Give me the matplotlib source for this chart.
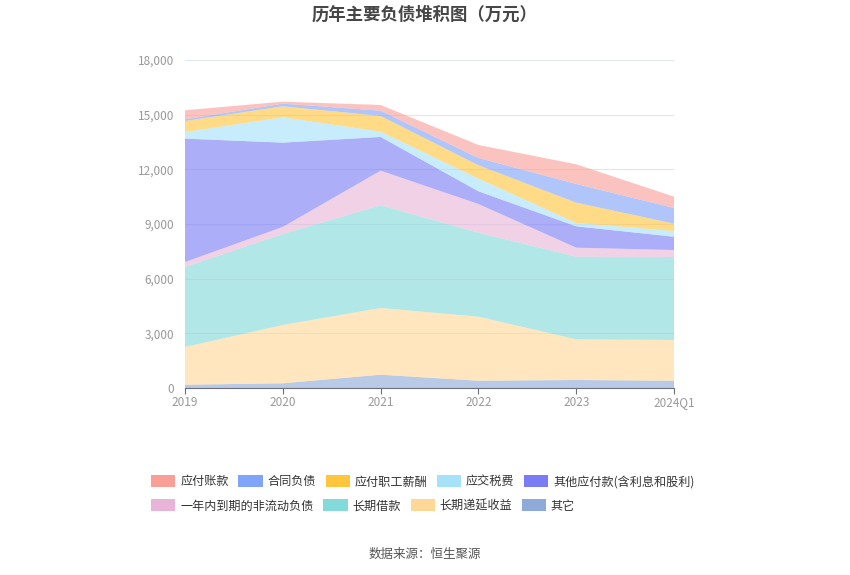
import matplotlib

matplotlib.use("Agg")
import matplotlib.pyplot as plt
from matplotlib.patches import Patch

plt.rcParams["font.family"] = ["Noto Sans CJK SC", "DejaVu Sans"]

# 横轴
YEARS = ["2019", "2020", "2021", "2022", "2023", "2024Q1"]

# 各科目(万元)，按堆叠顺序自下而上
OTHER = [180, 258, 730, 400, 440, 400]            # 其它
DEFERRED = [2070, 3199, 3660, 3513, 2230, 2234]   # 长期递延收益
LT_LOAN = [4390, 4993, 5635, 4612, 4537, 4556]    # 长期借款
NCL_1Y = [275, 390, 1902, 1573, 494, 383]         # 一年内到期的非流动负债
OTHER_PAY = [6768, 4624, 1848, 695, 1171, 727]    # 其他应付款(含利息和股利)
TAX = [366, 1390, 292, 695, 183, 316]             # 应交税费
SALARY = [604, 605, 860, 732, 1116, 402]          # 应付职工薪酬
CONTRACT = [92, 145, 292, 402, 1025, 860]         # 合同负债
PAYABLE = [495, 109, 312, 714, 1080, 622]         # 应付账款

SERIES = [
    ("其它", OTHER, "#8eaad8"),
    ("长期递延收益", DEFERRED, "#ffd897"),
    ("长期借款", LT_LOAN, "#84d9d9"),
    ("一年内到期的非流动负债", NCL_1Y, "#e8b5d8"),
    ("其他应付款(含利息和股利)", OTHER_PAY, "#7a7cf4"),
    ("应交税费", TAX, "#a6e1fa"),
    ("应付职工薪酬", SALARY, "#ffc53d"),
    ("合同负债", CONTRACT, "#80a4fa"),
    ("应付账款", PAYABLE, "#fa9f98"),
]
ROW1 = ["应付账款", "合同负债", "应付职工薪酬", "应交税费", "其他应付款(含利息和股利)"]
ROW2 = ["一年内到期的非流动负债", "长期借款", "长期递延收益", "其它"]

GRAY = "#999999"


def main():
    fig = plt.figure(figsize=(8.5, 5.75), dpi=100)
    ax = fig.add_axes([0.2176, 0.3252, 0.5754, 0.5705])

    x = list(range(len(YEARS)))
    ax.stackplot(x, *[s[1] for s in SERIES], colors=[s[2] for s in SERIES],
                 alpha=0.62, linewidth=0)

    ax.set_xlim(0, len(YEARS) - 1)
    ax.set_ylim(0, 18000)
    ax.set_yticks(range(0, 18001, 3000))
    ax.set_yticklabels([f"{v:,}" for v in range(0, 18001, 3000)])
    ax.set_xticks(x)
    ax.set_xticklabels(YEARS)
    ax.grid(axis="y", color="#e0e6f1", lw=0.8)
    ax.set_axisbelow(True)
    for s in ["top", "right", "left"]:
        ax.spines[s].set_visible(False)
    ax.spines["bottom"].set_color("#6e7079")
    ax.tick_params(axis="y", length=0, colors=GRAY, labelsize=8.5, pad=8)
    ax.tick_params(axis="x", length=4, color="#6e7079", colors=GRAY,
                   labelsize=8.5, pad=2)

    fig.text(0.5, 0.975, "历年主要负债堆积图（万元）", ha="center", va="center",
             fontsize=12.5, fontweight="bold", color="#464646")

    colors = {s[0]: s[2] for s in SERIES}
    for row, yy in [(ROW1, 0.162), (ROW2, 0.120)]:
        handles = [Patch(facecolor=colors[n], edgecolor="none", label=n) for n in row]
        fig.legend(handles=handles, loc="center left", bbox_to_anchor=(0.178, yy),
                   ncol=len(row), frameon=False, fontsize=8.7, handlelength=2.0,
                   handleheight=1.15, handletextpad=0.4, columnspacing=0.8,
                   borderpad=0, borderaxespad=0, labelcolor="#333333")

    fig.text(0.5, 0.035, "数据来源：恒生聚源", ha="center", va="center",
             fontsize=9, color="#555555")

    fig.savefig("out.png", dpi=100)


if __name__ == "__main__":
    main()
